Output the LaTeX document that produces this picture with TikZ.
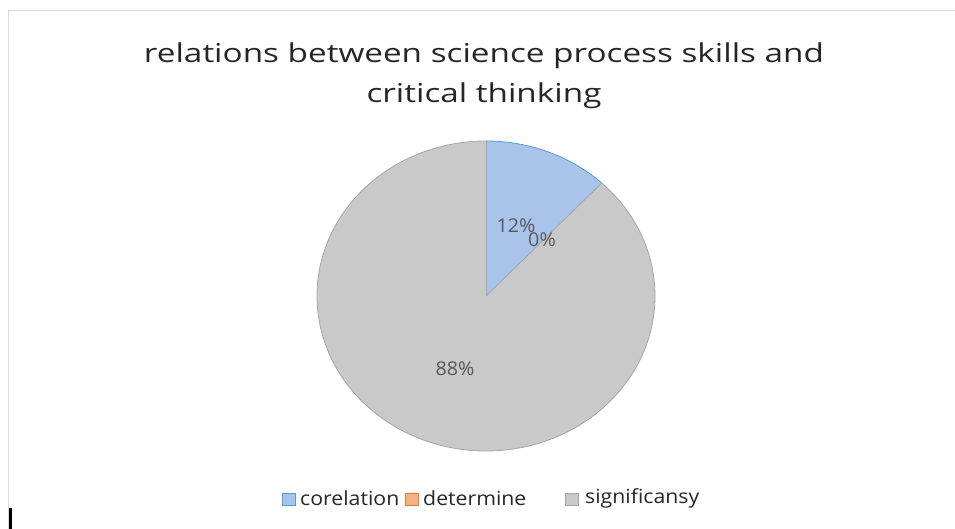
\documentclass[tikz,border=0pt]{standalone}
\usepackage{fontspec}
\setmainfont{Open Sans}
\usetikzlibrary{positioning}

\definecolor{corel}{HTML}{A9C4EB}
\definecolor{corelline}{HTML}{5B9BD5}
\definecolor{determ}{HTML}{F4B183}
\definecolor{determline}{HTML}{ED7D31}
\definecolor{signif}{HTML}{C9C9C9}
\definecolor{signifline}{HTML}{A5A5A5}
\definecolor{labelgray}{HTML}{595959}

\begin{document}
\begin{tikzpicture}[x=1pt, y=1pt]
		\useasboundingbox (0,0) rectangle (955,529);
		% chart frame
		\draw[gray!30, line width=1pt] (8,-5) -- (8,518) -- (960,518);
		\fill[black] (9,0) rectangle (11.5,21);

		% pie
		\coordinate (O) at (486,233);
		\fill[signif] (O) -- ++(46.8:169 and 155) arc[start angle=46.8, end angle=-270, x radius=169, y radius=155] -- cycle;
		\fill[corel] (O) -- ++(0,155) arc[start angle=90, end angle=46.8, x radius=169, y radius=155] -- cycle;
		\draw[signifline, line width=0.8pt] (O) ++(46.8:169 and 155) arc[start angle=46.8, end angle=-270, x radius=169, y radius=155];
		\draw[corelline, line width=0.8pt] (O) ++(0,155) arc[start angle=90, end angle=46.8, x radius=169, y radius=155];
		\draw[signifline, line width=0.8pt] (O) -- ++(0,155);
		\draw[signifline, line width=0.8pt] (O) -- ++(46.8:169 and 155);

		\begin{scope}[every node/.style={text=labelgray, font=\fontsize{19}{23}\selectfont, inner sep=0pt, xscale=1.04}]
			\node (p12) at (516,303) {12\%};
			\node (p0) at (542,289) {0\%};
			\node (p88) at (455,160) {88\%};
		\end{scope}

		% title
		\node[align=center, font=\fontsize{26}{40}\selectfont, text=black!85, xscale=1.28] (title) at (484,453)
			{relations between science process skills and\\critical thinking};

		% legend
		\begin{scope}[every node/.style={font=\fontsize{19.5}{22}\selectfont, inner sep=0pt, anchor=west, text=black!85, xscale=1.09}]
			\fill[corel, draw=corelline] (282,24) rectangle (295,36);
			\node (lc) at (300,31) {corelation};
			\fill[determ, draw=determline] (405,24) rectangle (418,36);
			\node (ld) at (423,31) {determine};
			\fill[signif, draw=signifline] (565,24) rectangle (578,36);
			\node (ls) at (585,31) {significansy};
		\end{scope}
\end{tikzpicture}
\end{document}
